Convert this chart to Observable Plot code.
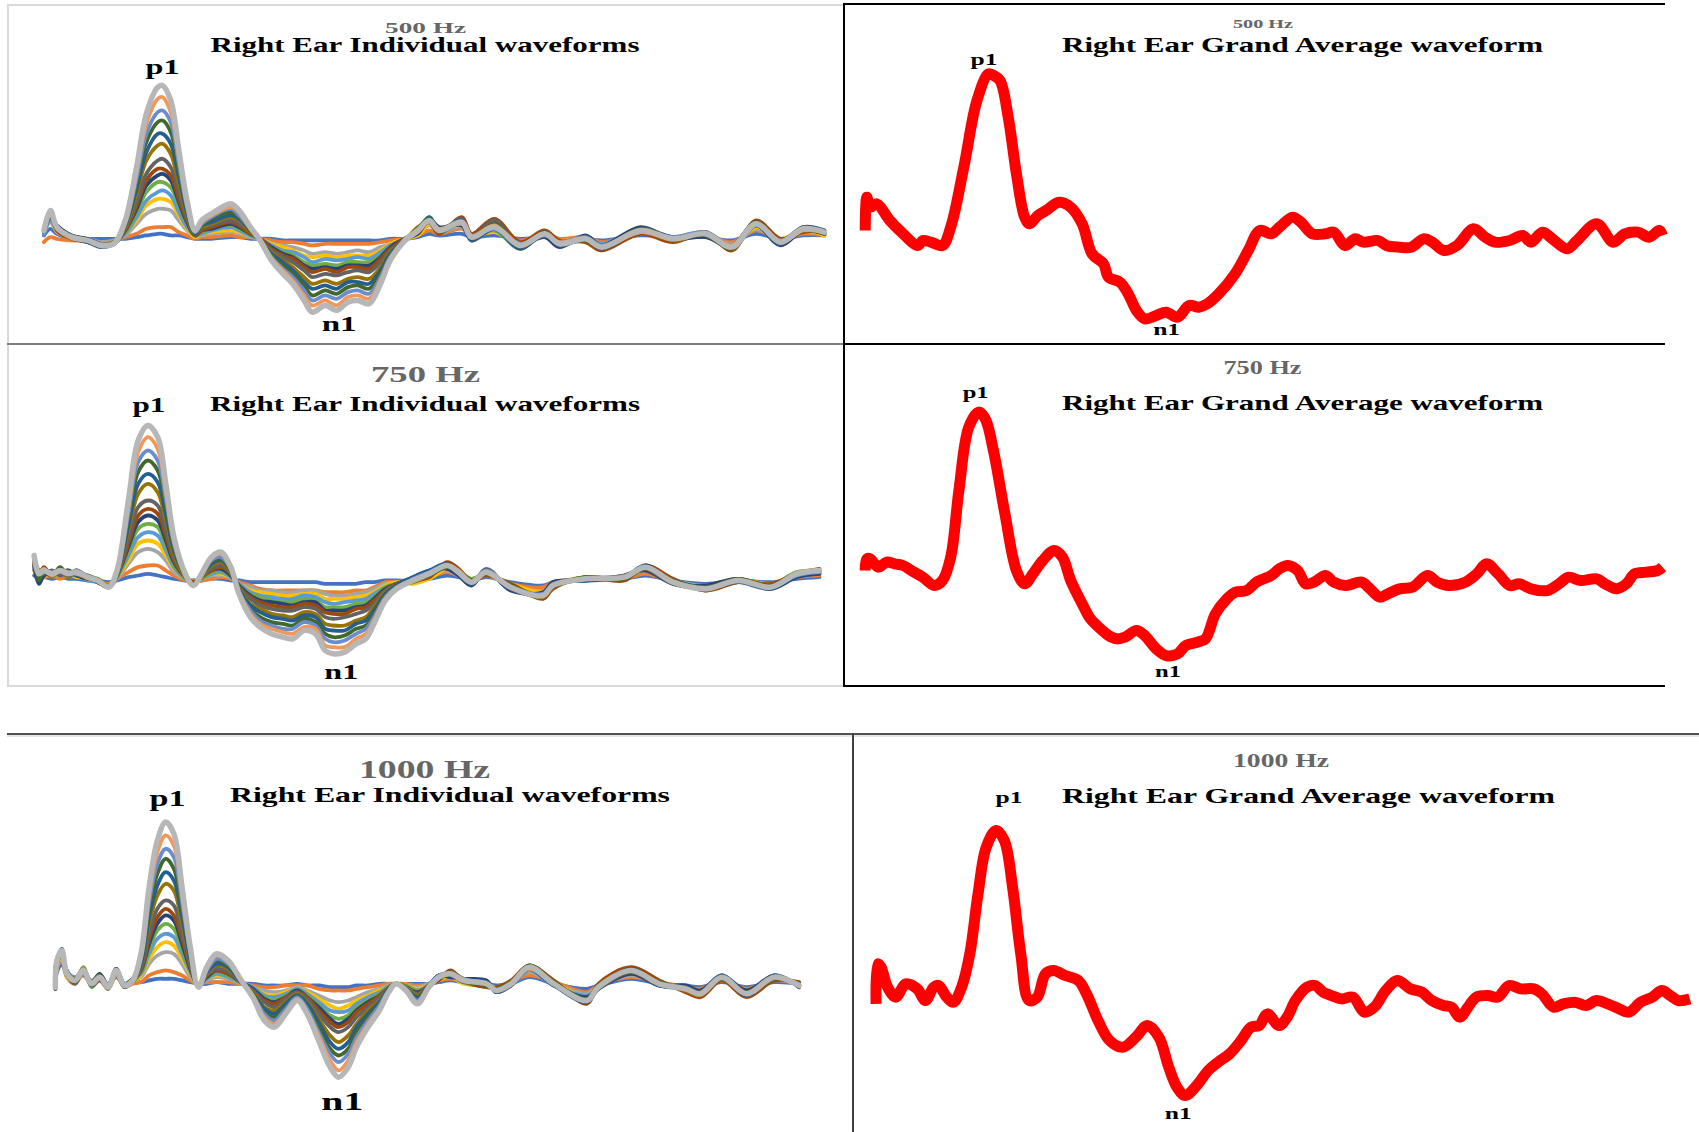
<!DOCTYPE html>
<html><head><meta charset="utf-8">
<script src="https://cdn.jsdelivr.net/npm/d3@7"></script>
<script src="https://cdn.jsdelivr.net/npm/@observablehq/plot@0.6"></script>
<style>
html,body{margin:0;padding:0;background:#fff;}
#fig{position:relative;width:1699px;height:1132px;overflow:hidden;background:#fff;}
.ln{position:absolute;}
.pn{position:absolute;}
#ov{position:absolute;left:0;top:0;pointer-events:none;}
</style></head><body><div id="fig"></div>
<script>
// ---------- DATA ----------
const seriesColors = ["#4472C4","#ED7D31","#A5A5A5","#FFC000","#5B9BD5","#70AD47","#264478","#9E480E","#636363","#997300","#255E91","#43682B","#698ED0","#F1975A","#B7B7B7"];

// 500 Hz individual waveforms (time in ms, amplitude in µV)
const t500 = [0,4,8,17,27,35,43,50,57,63,70,73,78,83,88,93,97,103,115,120,127,133,140,147,153,160,165,173,180,187,193,200,207,213,222,230,237,243,257,263,277,293,308,317,333,343,367,387,407,423,438,453,467,480];
const ind500 = [
[0.2,0.6,0.3,0,0,0,0, 0,0.1,0.2,0.3,0.3,0.2,0.2,0.1,0,0,0,0.1,0.1,0,0,0,-0.1,-0.1,-0.1,-0.1,-0.1,-0.1,-0.1,-0.1,-0.1,-0.1,0,0, 0.1,0.3,0.2,0.3,0.1,0.2,0,0.1,-0.1,0,-0.1,0.2,0.1,0.1,-0.1,0.3,0,0.2,0.2],
[-0.2,0.1,0,-0.1,-0.1,-0.2,-0.1, 0.1,0.3,0.6,0.7,0.7,0.7,0.4,0.2,0,0.1,0.1,0.2,0.1,0.1,0,-0.1,-0.2,-0.2,-0.3,-0.4,-0.3,-0.3,-0.3,-0.3,-0.3,-0.2,-0.1,0, 0.2,0.5,0.3,0.6,0.2,0.4,-0.1,0.3,0,0.1,-0.2,0.3,0.1,0.2,-0.2,0.5,0,0.3,0.2],
[0.3,1.0,0.4,0.1,0,-0.2,-0.1, 0.2,0.9,1.5,1.8,1.8,1.7,1.1,0.5,0.1,0.2,0.3,0.4,0.3,0.1,0,-0.3,-0.4,-0.5,-0.7,-0.9,-0.8,-0.9,-0.8,-0.7,-0.8,-0.5,-0.3,0, 0.3,0.8,0.4,0.7,0,0.5,-0.2,0.2,-0.2,0.1,-0.3,0.4,0.1,0.2,-0.3,0.6,-0.1,0.4,0.3],
[0.4,1.2,0.5,0,-0.1,-0.3,-0.2, 0.3,1.1,2.0,2.4,2.4,2.2,1.4,0.6,0.1,0.3,0.4,0.5,0.4,0.2,0,-0.3,-0.5,-0.7,-1.0,-1.1,-1.0,-1.1,-1.0,-1.0,-1.0,-0.7,-0.3,0, 0.2,0.9,0.6,0.8,0.2,0.4,-0.3,0.4,-0.1,0,-0.4,0.3,0,0.4,-0.4,0.7,0,0.5,0.2],
[0.3,1.1,0.6,0.2,-0.1,-0.3,-0.2, 0.3,1.3,2.3,2.8,2.9,2.6,1.6,0.7,0.2,0.3,0.5,0.7,0.5,0.2,0,-0.4,-0.7,-0.8,-1.1,-1.4,-1.2,-1.3,-1.2,-1.1,-1.2,-0.8,-0.4,0, 0.4,1.0,0.4,0.9,0,0.6,-0.5,0.2,-0.4,0.1,-0.3,0.6,-0.1,0.2,-0.6,0.8,-0.3,0.5,0.4],
[0.5,1.4,0.6,0.1,-0.2,-0.4,-0.3, 0.4,1.6,2.8,3.4,3.4,3.1,2.0,0.9,0.2,0.4,0.6,0.8,0.6,0.3,0,-0.5,-0.8,-1.0,-1.4,-1.6,-1.5,-1.6,-1.4,-1.4,-1.4,-1.0,-0.5,0, 0.6,1.3,0.6,1.1,0.2,0.5,-0.6,0.4,-0.2,-0.1,-0.6,0.4,0.1,0.4,-0.4,1.0,-0.1,0.7,0.5],
[0.4,1.3,0.8,0.2,0,-0.3,-0.3, 0.5,1.8,3.2,3.8,3.9,3.5,2.2,1.0,0.2,0.5,0.6,0.9,0.7,0.3,0,-0.5,-0.9,-1.1,-1.6,-1.8,-1.7,-1.8,-1.6,-1.6,-1.6,-1.1,-0.5,0, 0.3,1.2,0.7,0.8,-0.1,0.8,-0.3,0.1,-0.5,0.2,-0.4,0.7,0,0.1,-0.5,0.8,-0.4,0.5,0.3],
[0.6,1.5,0.5,0,-0.2,-0.4,-0.2, 0.5,2.0,3.5,4.2,4.2,3.8,2.4,1.1,0.2,0.5,0.7,1.0,0.8,0.3,0,-0.6,-1.0,-1.2,-1.7,-2.0,-1.8,-2.0,-1.7,-1.7,-1.8,-1.2,-0.6,0, 0.4,1.0,0.3,1.3,0.3,1.2,-0.2,0.5,-0.1,-0.2,-0.7,0.3,-0.2,0.4,-0.7,1.1,0,0.4,0.5],
[0.5,1.6,0.7,0.2,-0.1,-0.4,-0.3, 0.6,2.2,3.9,4.7,4.8,4.3,2.8,1.2,0.3,0.6,0.8,1.1,0.9,0.4,-0.1,-0.7,-1.1,-1.4,-1.9,-2.3,-2.1,-2.2,-2.0,-1.9,-2.0,-1.4,-0.7,-0.1, 0.5,1.2,0.4,1.2,0,1.1,-0.5,0.4,-0.4,0.1,-0.5,0.6,0.1,0.2,-0.4,1.0,-0.3,0.7,0.3],
[0.4,1.4,0.6,0.1,-0.1,-0.3,-0.2, 0.7,2.7,4.7,5.6,5.7,5.1,3.3,1.4,0.3,0.7,0.9,1.3,1.1,0.4,-0.1,-0.8,-1.3,-1.7,-2.3,-2.7,-2.5,-2.7,-2.4,-2.3,-2.4,-1.7,-0.8,-0.1, 0.7,1.0,0.6,0.9,0.2,0.8,-0.3,0.2,-0.2,-0.1,-0.4,0.4,-0.1,0.3,-0.6,0.9,-0.1,0.6,0.4],
[0.6,1.6,0.8,0.1,-0.2,-0.5,-0.3, 0.8,3.0,5.2,6.3,6.3,5.7,3.7,1.6,0.3,0.8,1.0,1.4,1.2,0.5,-0.1,-0.9,-1.4,-1.9,-2.6,-3.0,-2.8,-3.0,-2.6,-2.6,-2.7,-1.9,-0.9,-0.1, 0.4,1.3,0.5,1.1,-0.1,0.6,-0.6,0.3,-0.4,0,-0.6,0.5,0.1,0.3,-0.5,0.8,-0.3,0.7,0.5],
[0.5,1.5,0.6,0.2,-0.1,-0.4,-0.3, 0.8,3.3,5.8,7.0,7.1,6.4,4.1,1.8,0.4,0.8,1.2,1.6,1.3,0.5,-0.1,-1.0,-1.6,-2.1,-2.8,-3.4,-3.1,-3.3,-2.9,-2.8,-3.0,-2.1,-1.0,-0.1, 0.6,1.2,0.4,1.0,0,0.9,-0.5,0.4,-0.3,-0.1,-0.5,0.6,0,0.2,-0.6,1.0,-0.2,0.5,0.3],
[0.4,1.6,0.7,0.1,-0.1,-0.3,-0.3, 0.9,3.6,6.3,7.6,7.7,7.0,4.5,1.9,0.4,0.9,1.3,1.8,1.4,0.6,-0.1,-1.1,-1.8,-2.3,-3.1,-3.7,-3.4,-3.6,-3.2,-3.1,-3.3,-2.3,-1.1,-0.1, 0.5,1.0,0.6,0.9,0.2,0.6,-0.3,0.2,-0.2,0.1,-0.4,0.4,0.1,0.4,-0.4,0.8,-0.1,0.6,0.4],
[0.5,1.7,0.6,0.1,-0.1,-0.4,-0.3, 1.0,4.0,6.9,8.4,8.5,7.6,4.9,2.1,0.5,1.0,1.4,1.9,1.6,0.6,-0.1,-1.2,-1.9,-2.5,-3.4,-4.0,-3.7,-4.0,-3.5,-3.4,-3.6,-2.5,-1.2,-0.1, 0.4,1.1,0.6,0.9,0.1,0.8,-0.4,0.3,-0.2,0,-0.5,0.4,0,0.3,-0.4,0.9,-0.2,0.5,0.4],
[0.5,1.7,0.7,0.1,-0.1,-0.4,-0.3, 1.1,4.3,7.5,9.1,9.2,8.3,5.3,2.3,0.5,1.1,1.5,2.1,1.7,0.7,-0.1,-1.3,-2.1,-2.7,-3.7,-4.4,-4.0,-4.3,-3.8,-3.7,-3.9,-2.7,-1.3,-0.1, 0.5,1.1,0.5,1.0,0.1,0.7,-0.4,0.3,-0.3,0,-0.5,0.5,0,0.3,-0.5,0.9,-0.2,0.6,0.4]
];

// 750 Hz individual waveforms
const t750 = [0,3,6,11,16,21,26,33,39,46,51,58,64,70,76,81,86,93,98,103,109,115,121,126,133,139,146,153,159,166,173,179,184,191,198,204,209,216,223,233,243,254,261,269,278,293,313,319,339,363,376,393,413,433,453,469,483];
const ind750 = [
[0.3,0.1,0.2,0.1,0.2,0.1,0.1,0,0,-0.1, 0,0.2,0.3,0.4,0.3,0.2,0.1,0,0,0,0.1,0.1,0,0,-0.1,-0.1,-0.1,-0.1,-0.1,-0.1,-0.1,-0.2,-0.2,-0.2,-0.2,-0.1,-0.1,0,0, 0,0.1,0.3,0.2,0,0.2,-0.1,-0.3,-0.1,0,0.1,0.3,0,-0.2,0,-0.1,0.1,0.2],
[0.6,0.3,0.2,0.3,0.1,0.3,0.2,0.1,0,-0.2, 0.1,0.5,0.8,0.9,0.9,0.6,0.3,0,0,0,0.1,0.2,0.1,-0.1,-0.3,-0.5,-0.6,-0.6,-0.6,-0.6,-0.6,-0.7,-0.7,-0.7,-0.6,-0.6,-0.4,-0.1,-0.1, -0.1,0.2,0.5,0.3,0.1,0.3,-0.2,-0.4,-0.1,0.1,0.1,0.4,-0.1,-0.3,0,-0.2,0.2,0.3],
[0.8,0.2,0.5,0.2,0.4,0.3,0.3,0.1,-0.1,-0.3, 0.1,1.0,1.7,1.9,1.7,1.2,0.5,0.1,-0.1,0.1,0.3,0.3,0.2,-0.2,-0.4,-0.6,-0.6,-0.7,-0.7,-0.6,-0.6,-0.8,-0.9,-0.9,-0.8,-0.7,-0.5,-0.2,-0.1, 0.1,0.3,0.6,0.3,-0.1,0.4,-0.3,-0.6,-0.2,0.1,0.2,0.6,0,-0.3,0.1,-0.3,0.3,0.4],
[1.0,0.5,0.3,0.5,0.3,0.5,0.2,0.2,0,-0.3, 0.2,1.2,2.2,2.4,2.2,1.5,0.7,0.1,-0.1,0.1,0.4,0.4,0.2,-0.2,-0.6,-0.7,-0.8,-0.9,-0.9,-0.8,-0.8,-1.1,-1.1,-1.1,-1.0,-0.9,-0.7,-0.3,-0.1, -0.2,0.1,0.7,0.4,0,0.3,-0.2,-0.7,-0.3,0.2,0.1,0.7,-0.2,-0.4,0,-0.2,0.2,0.5],
[0.7,0.1,0.4,0.3,0.6,0.2,0.4,0,-0.1,-0.4, 0.2,1.5,2.6,2.9,2.7,1.8,0.8,0.1,-0.1,0.1,0.4,0.5,0.2,-0.2,-0.7,-0.9,-1.0,-1.1,-1.1,-0.9,-1.0,-1.3,-1.4,-1.3,-1.2,-1.1,-0.8,-0.4,-0.2, 0.1,0.5,0.8,0.4,-0.2,0.5,-0.5,-0.8,-0.2,0,0.3,0.7,-0.1,-0.4,0.1,-0.4,0.3,0.5],
[1.2,0.6,0.7,0.2,0.5,0.3,0.5,0.3,0.1,-0.3, 0.2,1.8,3.1,3.4,3.2,2.1,1.0,0.1,-0.1,0.1,0.5,0.6,0.3,-0.3,-0.8,-1.0,-1.2,-1.3,-1.3,-1.1,-1.2,-1.6,-1.6,-1.6,-1.4,-1.3,-1.0,-0.4,-0.2, -0.1,0.3,1.0,0.6,0.1,0.4,-0.3,-1.0,-0.4,0.2,0.1,0.9,0,-0.6,-0.1,-0.3,0.5,0.6],
[0.9,-0.2,0.3,0.5,0.4,0.6,0.3,0.1,0,-0.4, 0.3,2.0,3.5,3.9,3.6,2.4,1.1,0.2,-0.1,0.2,0.6,0.7,0.3,-0.3,-0.9,-1.2,-1.3,-1.4,-1.5,-1.3,-1.3,-1.8,-1.8,-1.8,-1.6,-1.5,-1.1,-0.5,-0.2, 0.2,0.6,0.7,0.3,-0.3,0.6,-0.6,-0.7,-0.1,0,0.3,0.6,-0.2,-0.3,0.1,-0.5,0.2,0.4],
[1.1,0.3,0.8,0.3,0.7,0.3,0.6,0.2,-0.1,-0.4, 0.3,2.2,3.9,4.3,4.0,2.7,1.2,0.2,-0.1,0.2,0.6,0.8,0.4,-0.4,-1.0,-1.3,-1.5,-1.6,-1.6,-1.4,-1.5,-1.9,-2.0,-2.0,-1.7,-1.6,-1.2,-0.6,-0.2, 0,0.2,1.1,0.7,0,0.3,-0.2,-1.1,-0.5,0.2,0,0.9,0.1,-0.6,-0.1,-0.2,0.4,0.7],
[1.3,0.5,0.4,0.6,0.3,0.5,0.4,0.3,0,-0.4, 0.3,2.5,4.4,4.8,4.5,3.0,1.4,0.2,-0.2,0.2,0.7,0.9,0.4,-0.4,-1.1,-1.5,-1.7,-1.8,-1.8,-1.6,-1.7,-2.2,-2.3,-2.2,-2.0,-1.8,-1.4,-0.6,-0.3, 0.1,0.5,0.9,0.4,-0.2,0.7,-0.5,-0.8,-0.2,0.1,0.3,0.7,-0.2,-0.4,0,-0.4,0.3,0.5],
[1.0,0.2,0.7,0.2,0.6,0.2,0.6,0.1,0.1,-0.3, 0.4,3.0,5.2,5.8,5.3,3.6,1.6,0.2,-0.2,0.2,0.9,1.1,0.5,-0.5,-1.4,-1.7,-2.0,-2.1,-2.2,-1.9,-2.0,-2.6,-2.7,-2.7,-2.4,-2.2,-1.6,-0.7,-0.3, -0.1,0.3,0.8,0.6,0,0.4,-0.4,-1.0,-0.4,0.1,0.2,0.8,0,-0.5,0.1,-0.3,0.4,0.6],
[1.4,0.6,0.5,0.5,0.5,0.6,0.3,0.2,-0.1,-0.4, 0.4,3.3,5.8,6.4,5.9,4.0,1.8,0.3,-0.2,0.3,1.0,1.2,0.6,-0.6,-1.5,-1.9,-2.2,-2.3,-2.4,-2.1,-2.2,-2.9,-3.0,-3.0,-2.6,-2.4,-1.8,-0.8,-0.3, 0.2,0.6,1.0,0.4,-0.2,0.6,-0.5,-0.9,-0.2,0,0.2,0.9,-0.1,-0.5,-0.1,-0.5,0.3,0.5],
[1.2,0,0.6,0.3,0.8,0.3,0.5,0.1,0,-0.4, 0.5,3.7,6.5,7.2,6.6,4.5,2.0,0.3,-0.2,0.3,1.1,1.3,0.6,-0.6,-1.7,-2.2,-2.5,-2.6,-2.7,-2.3,-2.5,-3.2,-3.4,-3.3,-2.9,-2.7,-2.0,-0.9,-0.4, 0,0.3,0.8,0.5,0,0.4,-0.3,-0.9,-0.4,0.2,0.1,0.7,0,-0.4,0.1,-0.3,0.4,0.6],
[1.3,0.4,0.5,0.5,0.5,0.4,0.6,0.2,0,-0.4, 0.5,4.0,7.1,7.8,7.2,4.9,2.2,0.3,-0.3,0.3,1.2,1.4,0.7,-0.7,-1.8,-2.4,-2.7,-2.9,-2.9,-2.5,-2.7,-3.5,-3.7,-3.6,-3.2,-2.9,-2.2,-1.0,-0.4, 0.1,0.5,0.9,0.5,-0.1,0.6,-0.4,-0.8,-0.3,0.1,0.2,0.8,-0.1,-0.5,0,-0.4,0.3,0.5],
[1.5,0.5,0.7,0.3,0.6,0.5,0.4,0.2,0,-0.4, 0.6,4.4,7.7,8.6,7.9,5.3,2.4,0.4,-0.3,0.4,1.3,1.6,0.7,-0.7,-2.0,-2.6,-2.9,-3.1,-3.2,-2.8,-2.9,-3.9,-4.0,-4.0,-3.5,-3.2,-2.4,-1.1,-0.5, 0,0.4,0.9,0.6,-0.1,0.5,-0.4,-0.9,-0.3,0.1,0.2,0.8,-0.1,-0.5,0,-0.4,0.4,0.6],
[1.5,0.4,0.6,0.4,0.6,0.4,0.5,0.2,0,-0.4, 0.6,4.8,8.4,9.3,8.6,5.8,2.6,0.4,-0.3,0.4,1.4,1.7,0.8,-0.8,-2.2,-2.8,-3.2,-3.4,-3.5,-3.0,-3.2,-4.2,-4.4,-4.3,-3.8,-3.5,-2.6,-1.2,-0.5, 0,0.4,0.9,0.5,-0.1,0.5,-0.4,-0.9,-0.3,0.1,0.2,0.8,-0.1,-0.5,0,-0.4,0.4,0.6]
];

// 1000 Hz individual waveforms
const t1000 = [0,1,4,7,12,17,22,27,32,37,42,47,52,57,62,67,72,77,82,87,92,98,105,113,120,127,133,140,147,153,160,167,172,178,183,190,197,202,207,213,220,227,233,240,248,262,268,277,288,303,323,330,350,367,383,392,405,420,437,452];
const ind1000 = [
[-0.1,0.7,1.2,0.5,0.3,0.5,0.1,0.3,0,0.4,0,0.1, 0.1,0.2,0.3,0.3,0.3,0.2,0.1,0,0,0.1,0,0,0,-0.1,-0.1,-0.1,0,-0.1,-0.1,-0.2,-0.2,-0.2,-0.1,-0.1,0,0,0,0,0,0, 0.1,0.2,0.1,0,-0.1,0,0.4,0,-0.3,-0.1,0.3,0,-0.1,-0.2,0.1,-0.2,0.1,0],
[-0.3,0.9,1.5,0.4,0,0.6,-0.1,0.2,-0.3,0.5,-0.2,0, 0.1,0.5,0.7,0.8,0.7,0.5,0.2,0,0.1,0.1,0.1,0,-0.1,-0.2,-0.2,-0.1,-0.1,-0.1,-0.3,-0.4,-0.4,-0.4,-0.3,-0.2,-0.1,0,0,0,-0.1,0, 0.2,0.3,0.1,-0.1,-0.2,0.1,0.5,0.1,-0.5,-0.1,0.4,0.1,-0.2,-0.3,0.2,-0.3,0.2,0],
[-0.2,1.0,1.6,0.7,0.3,0.7,0.2,0.5,0,0.6,0,0.2, 0.4,1.2,1.7,1.9,1.8,1.2,0.4,0,0.2,0.4,0.3,0,-0.2,-0.4,-0.5,-0.4,-0.2,-0.4,-0.7,-1.0,-1.1,-1.0,-0.8,-0.5,-0.3,-0.1,0,-0.1,-0.2,0, 0.3,0.4,0.2,0.1,-0.3,0,0.7,0,-0.6,-0.2,0.5,0,-0.2,-0.4,0.3,-0.4,0.3,-0.1],
[-0.3,1.1,1.7,0.4,0.1,0.9,-0.1,0.3,-0.3,0.7,-0.2,0.1, 0.5,1.5,2.2,2.5,2.3,1.5,0.6,-0.1,0.3,0.5,0.4,0.1,-0.2,-0.6,-0.7,-0.5,-0.3,-0.5,-0.9,-1.3,-1.5,-1.3,-1.0,-0.7,-0.4,-0.2,0,-0.1,-0.3,-0.1, 0.2,0.5,0,-0.1,-0.2,0.1,0.8,0.1,-0.8,-0.1,0.6,0.1,-0.3,-0.5,0.2,-0.5,0.3,0],
[-0.1,1.2,1.8,0.7,0.4,0.6,0.1,0.5,-0.1,0.9,0,0.3, 0.6,1.8,2.7,3.0,2.8,1.8,0.7,-0.1,0.3,0.6,0.4,0.1,-0.2,-0.7,-0.8,-0.6,-0.3,-0.6,-1.1,-1.6,-1.7,-1.6,-1.2,-0.8,-0.5,-0.2,0,-0.1,-0.4,-0.1, 0.4,0.5,0.3,0.1,-0.4,-0.1,0.8,-0.1,-0.7,-0.3,0.7,-0.1,-0.2,-0.5,0.4,-0.5,0.4,-0.1],
[-0.3,1.3,1.9,0.5,0.1,1.0,-0.2,0.3,-0.3,0.6,-0.2,0.1, 0.7,2.1,3.2,3.6,3.3,2.1,0.8,-0.1,0.4,0.7,0.5,0.1,-0.3,-0.8,-1.0,-0.7,-0.4,-0.7,-1.3,-1.9,-2.1,-1.9,-1.4,-1.0,-0.6,-0.2,0,-0.1,-0.4,-0.1, 0.3,0.7,0.1,-0.2,-0.3,0.1,1.1,0.1,-1.1,-0.1,0.9,0.1,-0.4,-0.7,0.3,-0.7,0.3,0],
[-0.2,1.4,1.7,0.8,0.2,0.7,0.1,0.6,-0.1,0.8,0,0.2, 0.8,2.4,3.6,4.1,3.8,2.4,0.9,-0.1,0.4,0.8,0.6,0.1,-0.3,-0.9,-1.1,-0.8,-0.4,-0.8,-1.4,-2.1,-2.4,-2.1,-1.6,-1.1,-0.7,-0.3,0,-0.2,-0.5,-0.1, 0.5,0.4,0.3,0.2,-0.5,-0.1,0.9,-0.1,-0.8,-0.3,0.6,-0.1,-0.1,-0.4,0.5,-0.4,0.5,-0.2],
[-0.3,1.2,2.0,0.5,0.3,0.9,-0.1,0.2,-0.2,0.9,-0.1,0.3, 0.8,2.7,4.0,4.5,4.1,2.7,1.0,-0.1,0.5,0.8,0.6,0.1,-0.4,-1.0,-1.2,-0.8,-0.5,-0.8,-1.6,-2.3,-2.6,-2.3,-1.7,-1.2,-0.7,-0.3,0,-0.2,-0.6,-0.1, 0.2,0.8,0.2,-0.2,-0.2,0.2,1.1,0.2,-1.2,0,1.0,0.2,-0.5,-0.8,0.2,-0.8,0.2,0.1],
[-0.2,1.5,1.8,0.6,0,0.8,0.1,0.5,-0.3,0.7,-0.2,0.2, 0.9,3.0,4.5,5.0,4.7,3.0,1.1,-0.1,0.5,0.9,0.7,0.1,-0.4,-1.1,-1.4,-0.9,-0.5,-0.9,-1.8,-2.6,-2.9,-2.6,-2.0,-1.4,-0.8,-0.3,0,-0.2,-0.6,-0.1, 0.5,0.6,0.1,0.1,-0.5,-0.1,0.9,-0.1,-0.9,-0.3,0.7,-0.1,-0.2,-0.5,0.5,-0.5,0.5,-0.2],
[-0.1,1.3,1.9,0.7,0.3,0.7,0,0.4,-0.1,0.8,0,0.1, 1.1,3.6,5.3,6.0,5.6,3.6,1.4,-0.1,0.6,1.1,0.9,0.1,-0.5,-1.4,-1.6,-1.1,-0.6,-1.1,-2.1,-3.1,-3.5,-3.1,-2.4,-1.6,-1.0,-0.4,0,-0.2,-0.7,-0.1, 0.3,0.7,0.3,-0.1,-0.3,0.1,1.0,0.1,-1.0,-0.1,0.8,0.1,-0.4,-0.7,0.3,-0.6,0.3,0],
[-0.3,1.4,2.1,0.5,0.2,0.9,-0.1,0.3,-0.2,0.9,-0.1,0.2, 1.2,4.0,5.9,6.7,6.2,4.0,1.5,-0.1,0.7,1.2,1.0,0.1,-0.6,-1.5,-1.8,-1.2,-0.7,-1.2,-2.3,-3.5,-3.9,-3.5,-2.6,-1.8,-1.1,-0.4,0,-0.3,-0.8,-0.1, 0.5,0.5,0.2,0.1,-0.5,0,0.9,-0.1,-1.1,-0.3,0.9,-0.1,-0.3,-0.6,0.5,-0.7,0.5,-0.1],
[-0.2,1.3,1.9,0.6,0.1,0.8,0.1,0.5,-0.2,0.7,-0.1,0.3, 1.4,4.5,6.6,7.5,6.9,4.5,1.7,-0.2,0.8,1.4,1.1,0.2,-0.6,-1.7,-2.0,-1.4,-0.8,-1.4,-2.6,-3.9,-4.3,-3.9,-2.9,-2.0,-1.2,-0.5,0,-0.3,-0.9,-0.2, 0.3,0.7,0.2,-0.1,-0.3,0.1,1.1,0.1,-0.9,-0.1,0.7,0.1,-0.3,-0.6,0.3,-0.5,0.3,0],
[-0.2,1.5,2.0,0.7,0.2,0.8,0,0.4,-0.1,0.8,0,0.2, 1.5,4.9,7.2,8.1,7.6,4.9,1.8,-0.2,0.8,1.5,1.2,0.2,-0.7,-1.8,-2.2,-1.5,-0.8,-1.5,-2.9,-4.2,-4.7,-4.2,-3.2,-2.2,-1.3,-0.5,0,-0.3,-1.0,-0.2, 0.4,0.6,0.3,0,-0.4,0,1.0,0,-1.0,-0.2,0.8,0,-0.3,-0.6,0.4,-0.6,0.4,-0.1],
[-0.2,1.4,2.0,0.6,0.2,0.9,0,0.4,-0.2,0.8,-0.1,0.2, 1.7,5.3,7.9,8.9,8.3,5.3,2.0,-0.2,0.9,1.7,1.3,0.2,-0.7,-2.0,-2.4,-1.7,-0.9,-1.7,-3.1,-4.6,-5.2,-4.6,-3.5,-2.4,-1.5,-0.6,0,-0.4,-1.1,-0.2, 0.4,0.6,0.2,0,-0.4,0,0.9,0,-1.0,-0.2,0.8,0,-0.3,-0.6,0.4,-0.6,0.4,-0.1],
[-0.2,1.4,2.0,0.6,0.2,0.8,0,0.4,-0.2,0.8,-0.1,0.2, 1.8,5.8,8.6,9.7,9.0,5.8,2.2,-0.2,1.0,1.8,1.4,0.2,-0.8,-2.2,-2.6,-1.8,-1.0,-1.8,-3.4,-5.0,-5.6,-5.0,-3.8,-2.6,-1.6,-0.6,0,-0.4,-1.2,-0.2, 0.4,0.6,0.2,0,-0.4,0,1.0,0,-1.0,-0.2,0.8,0,-0.3,-0.6,0.4,-0.6,0.4,-0.1]
];

// Grand average waveforms
const ga500T = [0,1,3,7,15,22,32,35,40,47,52,60,68,75,78,82,87,92,97,100,105,110,118,125,132,138,145,148,155,160,165,170,177,183,190,197,203,208,215,225,233,240,247,252,260,265,272,280,285,292,298,303,312,317,325,332,340,345,352,360,370,377,383,392,400,405,412,418,427,433,445,455,462,470,477,483,485];
const ga500V = [0.3,1.3,1.0,1.1,0.6,0.25,-0.15,0.0,-0.05,-0.15,0.4,2.2,4.2,5.0,4.95,4.8,3.7,2.0,0.7,0.5,0.75,0.9,1.15,1.0,0.5,-0.4,-0.7,-1.1,-1.25,-1.6,-2.1,-2.35,-2.25,-2.15,-2.3,-1.95,-2.0,-1.9,-1.6,-1.0,-0.3,0.3,0.2,0.4,0.7,0.55,0.2,0.2,0.25,-0.15,0.05,-0.05,0.0,-0.15,-0.2,-0.2,0.05,-0.05,-0.3,-0.15,0.35,0.1,-0.05,0.0,0.15,-0.05,0.25,0.05,-0.25,0.0,0.5,-0.05,0.2,0.25,0.1,0.3,0.15];
const ga750T = [0,1,3,8,13,18,23,28,35,42,47,52,57,63,69,73,78,85,92,97,102,108,115,120,125,132,137,142,148,153,158,165,170,177,183,190,195,202,207,213,220,225,232,238,247,252,257,263,268,273,280,285,292,302,307,313,318,325,333,342,348,355,365,372,378,385,392,398,405,415,422,428,435,445,450,457,463,468,475,482,485];
const ga750V = [0.3,0.65,0.65,0.4,0.55,0.5,0.45,0.3,0.1,-0.15,0.0,0.7,2.7,4.6,5.05,4.85,3.9,2.0,0.3,-0.1,0.2,0.6,0.9,0.7,0.0,-0.7,-1.15,-1.4,-1.65,-1.75,-1.7,-1.5,-1.65,-2.05,-2.25,-2.2,-1.95,-1.85,-1.75,-1.0,-0.55,-0.35,-0.3,-0.05,0.15,0.35,0.45,0.3,-0.1,-0.05,0.15,-0.05,-0.15,-0.05,-0.25,-0.5,-0.4,-0.25,-0.2,0.15,-0.05,-0.15,-0.05,0.2,0.5,0.2,-0.15,-0.1,-0.25,-0.3,-0.1,0.1,0.0,0.05,-0.1,-0.25,-0.1,0.2,0.25,0.3,0.4];
const ga1000T = [0,1,3,7,12,18,25,30,35,38,43,47,52,57,62,67,73,78,83,88,93,98,103,108,115,123,128,135,142,150,158,165,172,178,183,188,195,202,208,215,222,228,233,238,245,250,255,262,267,272,277,283,290,297,303,310,317,325,332,338,345,350,355,360,365,372,378,385,392,400,405,412,418,425,432,438,445,452,458,465,472,478,483,488,495];
const ga1000V = [-0.2,1.0,0.9,0.3,0.0,0.4,0.25,-0.1,0.3,0.35,0.0,-0.15,0.3,1.3,3.1,4.5,5.0,4.7,3.3,1.3,-0.1,0.0,0.7,0.8,0.65,0.5,0.1,-0.7,-1.3,-1.5,-1.2,-0.85,-1.2,-2.1,-2.7,-2.95,-2.65,-2.2,-1.95,-1.7,-1.3,-0.9,-0.85,-0.5,-0.85,-0.6,-0.1,0.3,0.35,0.15,0.05,-0.05,0.0,-0.45,-0.3,0.2,0.5,0.25,0.15,-0.1,-0.25,-0.3,-0.6,-0.3,0.0,0.05,0.0,0.35,0.25,0.25,0.1,-0.3,-0.2,-0.15,-0.25,-0.1,-0.2,-0.35,-0.45,-0.15,0.0,0.2,0.05,-0.1,-0.05];

// Text
const hzLabels = ["500 Hz","750 Hz","1000 Hz"];
const indTitle = "Right Ear Individual waveforms";
const gaTitle = "Right Ear Grand Average waveform";
const peakLabels = ["p1","n1"];

// ---------- LAYOUT ----------
const FONT = '"Liberation Serif","Times New Roman",serif';
const fig = document.getElementById("fig");

const rules = [
  [7,4,837,2,"#d9d9d9"],[7,4,2,682,"#d9d9d9"],[7,343,837,2,"#7f7f7f"],
  [843,3,2,684,"#000"],[843,3,822,2,"#000"],[843,343,822,2,"#000"],
  [7,685,837,2,"#d9d9d9"],[843,685,822,2,"#000"],
  [7,733,1692,2,"#505050"],[7,735,1692,2,"#e6e6e6"],[852,733,2,399,"#404040"]
];
for (const [l,t,w,h,c] of rules) {
  const d = document.createElement("div");
  d.className = "ln";
  Object.assign(d.style, {left:l+"px", top:t+"px", width:w+"px", height:h+"px", background:c});
  fig.appendChild(d);
}

const panels = [
  {left:7, top:5, width:837, height:339, xd:[0,480], xr:[36.4,816.9], yd:[0,9.2], yr:[233.3,80], t:t500, series:ind500,
   p:{dx:0,dy:-12,size:22,w:34}, n:{dx:27,dy:19,size:22,w:35}},
  {left:844, top:4, width:821, height:340, xd:[0,485], xr:[20.7,818], yd:[0,5], yr:[236,69.3], t:ga500T, ga:ga500V,
   p:{dx:-4.5,dy:-9,size:17,w:27}, n:{dx:22,dy:16,size:17,w:27}},
  {left:7, top:344, width:837, height:342, xd:[0,483], xr:[26.6,812], yd:[0,9.3], yr:[236,81], t:t750, series:ind750,
   p:{dx:1,dy:-14,size:22,w:33}, n:{dx:8,dy:25,size:22,w:34}},
  {left:844, top:344, width:821, height:342, xd:[0,485], xr:[20.7,818], yd:[0,5], yr:[236,69.3], t:ga750T, ga:ga750V,
   p:{dx:-3,dy:-14,size:17,w:26}, n:{dx:2,dy:21,size:17,w:26}},
  {left:7, top:734, width:846, height:398, xd:[0,452], xr:[47.85,791.6], yd:[0,9.7], yr:[249.3,87.6], t:t1000, series:ind1000,
   p:{dx:2,dy:-16,size:23,w:36}, n:{dx:4,dy:33,size:25,w:42}},
  {left:853, top:734, width:846, height:398, xd:[0,495], xr:[22.6,836.4], yd:[0,5], yr:[262.7,96], t:ga1000T, ga:ga1000V,
   p:{dx:13,dy:-28,size:17,w:27}, n:{dx:-7,dy:23,size:17,w:27}}
];

for (const cfg of panels) {
  const marks = [];
  let ref;
  if (cfg.series) {
    cfg.series.forEach((s, k) => {
      const rows = cfg.t.map((tt, i) => ({t: tt, v: s[i]})).filter(d => d.v !== undefined);
      marks.push(Plot.line(rows, {x: "t", y: "v", stroke: seriesColors[k], strokeWidth: k === 14 ? 5.5 : 3.8,
        curve: "catmull-rom", strokeLinejoin: "round", strokeLinecap: "round"}));
    });
    ref = cfg.series[cfg.series.length - 1];
  } else {
    const rows = cfg.t.map((tt, i) => ({t: tt, v: cfg.ga[i]}));
    marks.push(Plot.line(rows, {x: "t", y: "v", stroke: "#ff0000", strokeWidth: 11,
      curve: "catmull-rom", strokeLinejoin: "round", strokeLinecap: "butt"}));
    ref = cfg.ga;
  }
  const iMax = d3.maxIndex(ref), iMin = d3.minIndex(ref);
  const pRow = [{t: cfg.t[iMax], v: ref[iMax], label: peakLabels[0]}];
  const nRow = [{t: cfg.t[iMin], v: ref[iMin], label: peakLabels[1]}];
  const txt = (data, o) => Plot.text(data, {x: "t", y: "v", text: "label", dx: o.dx, dy: o.dy,
    fontSize: o.size, fontWeight: "bold", fontFamily: FONT, fill: "#000", textAnchor: "middle", lineAnchor: "bottom"});
  marks.push(txt(pRow, cfg.p), txt(nRow, cfg.n));

  const svg = Plot.plot({
    width: cfg.width, height: cfg.height,
    x: {axis: null, domain: cfg.xd, range: cfg.xr},
    y: {axis: null, domain: cfg.yd, range: cfg.yr},
    style: {background: "transparent", overflow: "visible"},
    marks
  });
  const wrap = document.createElement("div");
  wrap.className = "pn";
  Object.assign(wrap.style, {left: cfg.left + "px", top: cfg.top + "px", width: cfg.width + "px", height: cfg.height + "px"});
  wrap.appendChild(svg);
  fig.appendChild(wrap);
  svg.querySelectorAll('g[aria-label="text"] text').forEach(el => {
    const isP = el.textContent.trim() === peakLabels[0];
    el.setAttribute("textLength", isP ? cfg.p.w : cfg.n.w);
    el.setAttribute("lengthAdjust", "spacingAndGlyphs");
  });
}

// Titles overlay
const titles = [
  {text: hzLabels[0], x: 425.5, y: 33, size: 15, w: 81, fill: "#666"},
  {text: indTitle, x: 425, y: 52, size: 21, w: 429, fill: "#000"},
  {text: hzLabels[0], x: 1263, y: 28, size: 13, w: 60, fill: "#666"},
  {text: gaTitle, x: 1302.5, y: 52, size: 21, w: 481, fill: "#000"},
  {text: hzLabels[1], x: 425.5, y: 382, size: 23, w: 109, fill: "#666"},
  {text: indTitle, x: 425, y: 411, size: 21, w: 430, fill: "#000"},
  {text: hzLabels[1], x: 1262.5, y: 374, size: 18, w: 78, fill: "#666"},
  {text: gaTitle, x: 1302.5, y: 410, size: 21, w: 481, fill: "#000"},
  {text: hzLabels[2], x: 424.5, y: 778, size: 26, w: 131, fill: "#666"},
  {text: indTitle, x: 450, y: 802, size: 21, w: 440, fill: "#000"},
  {text: hzLabels[2], x: 1281, y: 767, size: 19, w: 96, fill: "#666"},
  {text: gaTitle, x: 1308.5, y: 803, size: 21.5, w: 493, fill: "#000"}
];
const ov = d3.create("svg").attr("id", "ov").attr("width", 1699).attr("height", 1132);
ov.selectAll("text").data(titles).join("text")
  .attr("x", d => d.x).attr("y", d => d.y)
  .attr("text-anchor", "middle")
  .attr("font-family", FONT).attr("font-weight", "bold")
  .attr("font-size", d => d.size).attr("fill", d => d.fill)
  .attr("textLength", d => d.w).attr("lengthAdjust", "spacingAndGlyphs")
  .text(d => d.text);
fig.appendChild(ov.node());
</script></body></html>
